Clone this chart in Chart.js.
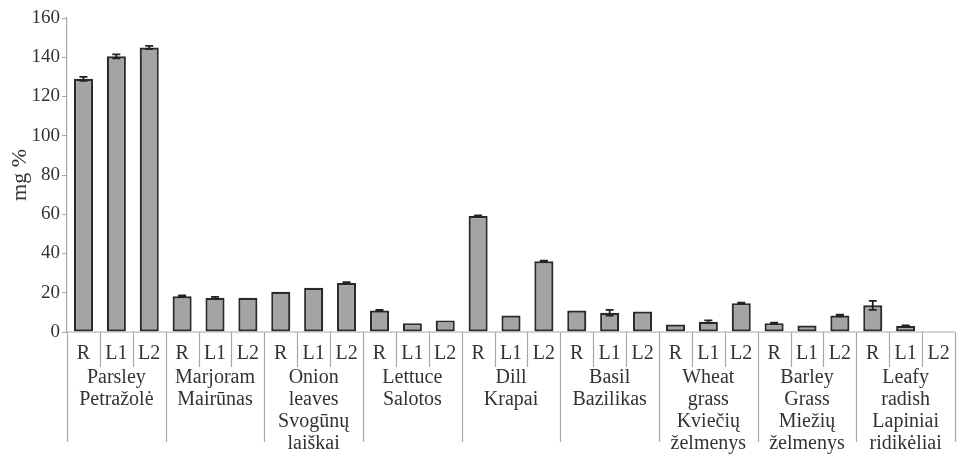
<!DOCTYPE html>
<html>
<head>
<meta charset="utf-8">
<script src="https://cdn.jsdelivr.net/npm/chart.js@4"></script>
<style>
  html, body { margin: 0; padding: 0; background: #ffffff; }
  #wrap { width: 957px; height: 454px; }
</style>
</head>
<body>
<div id="wrap"><canvas id="chart" width="957" height="454"></canvas></div>
<script>
// Plant groups (English / Lithuanian names, one line per entry)
const groups = [
  ['Parsley', 'Petražolė'],
  ['Marjoram', 'Mairūnas'],
  ['Onion', 'leaves', 'Svogūnų', 'laiškai'],
  ['Lettuce', 'Salotos'],
  ['Dill', 'Krapai'],
  ['Basil', 'Bazilikas'],
  ['Wheat', 'grass', 'Kviečių', 'želmenys'],
  ['Barley', 'Grass', 'Miežių', 'želmenys'],
  ['Leafy', 'radish', 'Lapiniai', 'ridikėliai']
];
const samples = ['R', 'L1', 'L2'];

// Content, mg %, in group order (R, L1, L2 per group)
const values = [
  129, 140.5, 145,
  18.2, 17.4, 17.4,
  20.5, 22.5, 25.0,
  10.9, 4.5, 5.9,
  59.1, 8.4, 36.0,
  10.9, 9.8, 10.4,
  3.8, 5.2, 14.7,
  4.5, 3.3, 8.4,
  13.6, 3.0, 0
];
// Error half-widths, mg %
const errors = [
  1.0, 1.0, 0.8,
  0.4, 0.5, 0,
  0, 0, 0.4,
  0.3, 0, 0,
  0.3, 0, 0.3,
  0, 1.5, 0,
  0, 0.7, 0.3,
  0.3, 0, 0.4,
  2.3, 0.3, 0
];
const yTicks = [0, 20, 40, 60, 80, 100, 120, 140, 160];

const labels = [];
groups.forEach((g, gi) => samples.forEach(s => labels.push(g[0] + ' ' + s)));

const SERIF = "'Liberation Serif', 'DejaVu Serif', serif";
const AXIS_GREY = '#a8a8a8';
const TEXT = '#333333';

// Error bars drawn on top of the bars
const errorBars = {
  id: 'errorBars',
  afterDatasetsDraw(chart) {
    const ctx = chart.ctx;
    const x = chart.scales.x, y = chart.scales.y;
    ctx.save();
    ctx.strokeStyle = '#222';
    ctx.lineWidth = 1.8;
    values.forEach((v, i) => {
      const e = errors[i];
      if (!e) return;
      const cx = x.getPixelForValue(i);
      const yTop = y.getPixelForValue(v + e);
      const yBot = y.getPixelForValue(v - e);
      ctx.beginPath();
      ctx.moveTo(cx, yTop); ctx.lineTo(cx, yBot);
      ctx.moveTo(cx - 4, yTop); ctx.lineTo(cx + 4, yTop);
      ctx.moveTo(cx - 4, yBot); ctx.lineTo(cx + 4, yBot);
      ctx.stroke();
    });
    ctx.restore();
  }
};

// Category axis: baseline, separators, sample labels and group names
const groupAxis = {
  id: 'groupAxis',
  afterDraw(chart) {
    const ctx = chart.ctx;
    const x = chart.scales.x, y = chart.scales.y;
    const area = chart.chartArea;
    const base = y.getPixelForValue(0);
    const half = (x.getPixelForValue(1) - x.getPixelForValue(0)) / 2;
    ctx.save();
    ctx.strokeStyle = AXIS_GREY;
    ctx.lineWidth = 1.2;
    ctx.beginPath();
    ctx.moveTo(area.left, base);
    ctx.lineTo(area.right, base);
    for (let i = 0; i <= labels.length; i++) {
      const px = Math.round((i < labels.length ? x.getPixelForValue(i) - half : x.getPixelForValue(i - 1) + half)) + 0.5;
      const end = (i % samples.length === 0) ? base + 110 : base + 35;
      ctx.moveTo(px, base);
      ctx.lineTo(px, end);
    }
    ctx.stroke();

    ctx.fillStyle = TEXT;
    ctx.font = '20px ' + SERIF;
    ctx.textAlign = 'center';
    ctx.textBaseline = 'middle';
    labels.forEach((l, i) => {
      ctx.fillText(samples[i % samples.length], x.getPixelForValue(i), base + 22);
    });
    groups.forEach((g, gi) => {
      const cx = x.getPixelForValue(gi * samples.length + 1);
      g.forEach((line, li) => {
        ctx.fillText(line, cx, base + 46 + li * 22);
      });
    });
    ctx.restore();
  }
};

new Chart(document.getElementById('chart'), {
  type: 'bar',
  data: {
    labels: labels,
    datasets: [{
      data: values,
      backgroundColor: '#a4a4a4',
      borderColor: '#2a2a2a',
      borderWidth: 2.2,
      borderSkipped: false,
      categoryPercentage: 1,
      barPercentage: 0.58
    }]
  },
  options: {
    responsive: false,
    animation: false,
    devicePixelRatio: 1,
    layout: { padding: { top: 18, right: 2, bottom: 122, left: 0 } },
    plugins: { legend: { display: false }, tooltip: { enabled: false } },
    scales: {
      x: { display: false },
      y: {
        min: 0,
        max: 160,
        afterBuildTicks(scale) { scale.ticks = yTicks.map(v => ({ value: v })); },
        afterFit(scale) { scale.width = 67; },
        border: { color: AXIS_GREY, width: 1.2 },
        grid: { drawOnChartArea: false, drawTicks: true, tickLength: 5, color: AXIS_GREY },
        ticks: {
          padding: 2,
          color: TEXT,
          font: { family: SERIF, size: 19 }
        },
        title: {
          display: true,
          text: 'mg %',
          color: TEXT,
          font: { family: SERIF, size: 22 },
          padding: { top: 7, bottom: 0 }
        }
      }
    }
  },
  plugins: [errorBars, groupAxis]
});
</script>
</body>
</html>
